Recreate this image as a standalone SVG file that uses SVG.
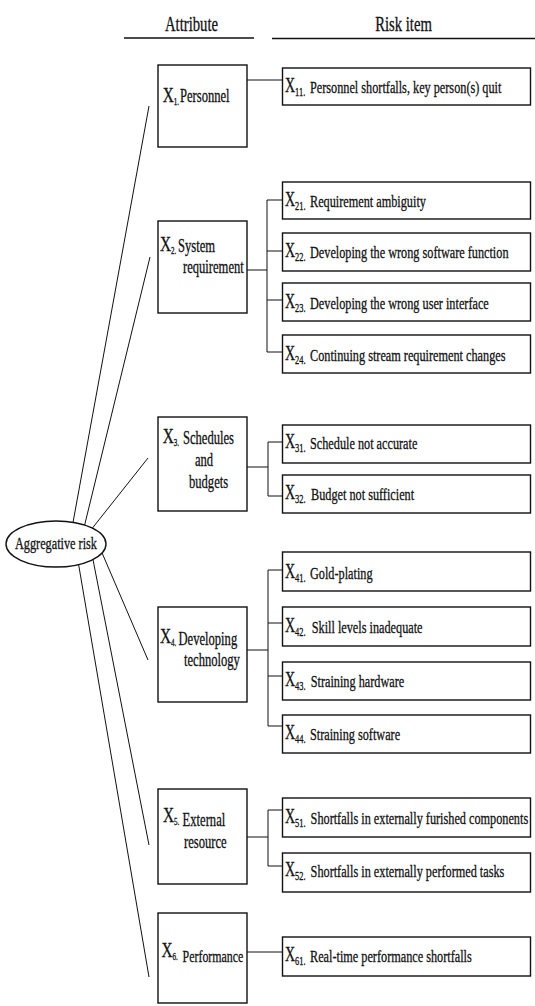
<svg xmlns="http://www.w3.org/2000/svg" width="535" height="1006" viewBox="0 0 535 1006">
<style>
text{font-family:"Liberation Serif","Times New Roman",serif;fill:#111;stroke:#111;stroke-width:0.3}
.box{fill:#fff;stroke:#111;stroke-width:1.4}
.ln{fill:none;stroke:#111;stroke-width:1}
.rule{stroke:#111;stroke-width:1.5}
.hd{font-size:21px}
.X{font-size:20px}
.Xa{font-size:22px}
.s{font-size:12px}
.sa{font-size:10px}
.d{font-size:17.5px}
.da{font-size:18px}
.e{font-size:17.5px}
</style>
<rect width="535" height="1006" fill="#fff"/>
<g id="headers">
<line class="rule" x1="124" y1="38" x2="254" y2="38"/>
<line class="rule" x1="272" y1="38.5" x2="535" y2="38.5"/>
<text class="hd" transform="scale(0.7,1)" x="273.57" y="31.5" text-anchor="middle">Attribute</text>
<text class="hd" transform="scale(0.7,1)" x="576.43" y="31.5" text-anchor="middle">Risk item</text>
</g>
<g id="connectors" class="ln">
<path d="M73,522.5 L149,106 M84.6,525.2 L150,257 M92.4,528.1 L148,458 M102.1,553 L148,660 M93,559.7 L149,845 M78.6,564.5 L149,977"/>
<path d="M247,80 H282.5"/>
<path d="M247,270 H267 M282.5,200 H267 V352 H282.5 M267,251 H282.5 M267,300 H282.5"/>
<path d="M247,467 H268 M282.5,442 H268 V496 H282.5"/>
<path d="M247,650 H268 M282.5,570 H268 V726 H282.5 M268,623 H282.5 M268,676 H282.5"/>
<path d="M247,837 H268 M282.5,810 H268 V866 H282.5"/>
<path d="M247,952 H282.5"/>
</g>
<g id="root">
<ellipse class="box" cx="56" cy="544" rx="50" ry="23"/>
<text class="e" transform="scale(0.7,1)" x="80" y="549" text-anchor="middle">Aggregative risk</text>
</g>
<g id="x1">
<rect class="box" x="158" y="65" width="89" height="82"/>
<text transform="scale(0.7,1)"><tspan class="Xa" x="232.43" y="101.7">X</tspan><tspan class="sa" dy="3.5">1. </tspan><tspan class="da" x="257.14" y="102">Personnel</tspan></text>
</g>
<g id="x2">
<rect class="box" x="158" y="221" width="89" height="92"/>
<text transform="scale(0.7,1)"><tspan class="Xa" x="228.57" y="251">X</tspan><tspan class="sa" dy="3.5">2. </tspan><tspan class="da" x="254.29" y="252">System </tspan><tspan class="da" x="261.43" y="273">requirement</tspan></text>
</g>
<g id="x3">
<rect class="box" x="158" y="417" width="89" height="94"/>
<text transform="scale(0.7,1)"><tspan class="Xa" x="232.43" y="443">X</tspan><tspan class="sa" dy="3.5">3. </tspan><tspan class="da" x="261.43" y="444">Schedules </tspan><tspan class="da" x="278.57" y="466">and </tspan><tspan class="da" x="270" y="488">budgets</tspan></text>
</g>
<g id="x4">
<rect class="box" x="158" y="607" width="89" height="95"/>
<text transform="scale(0.7,1)"><tspan class="Xa" x="228.57" y="643">X</tspan><tspan class="sa" dy="3.5">4. </tspan><tspan class="da" x="255" y="645">Developing </tspan><tspan class="da" x="262.86" y="666">technology</tspan></text>
</g>
<g id="x5">
<rect class="box" x="158" y="789" width="89" height="95"/>
<text transform="scale(0.7,1)"><tspan class="Xa" x="232.86" y="822">X</tspan><tspan class="sa" dy="3.5">5. </tspan><tspan class="da" x="260.86" y="826">External </tspan><tspan class="da" x="262.86" y="848">resource</tspan></text>
</g>
<g id="x6">
<rect class="box" x="158" y="913" width="89" height="90"/>
<text transform="scale(0.7,1)"><tspan class="Xa" x="230.57" y="957">X</tspan><tspan class="sa" dy="3.5">6. </tspan><tspan class="da" x="260.86" y="962" style="font-size:17px">Performance</tspan></text>
</g>
<g id="x11">
<rect class="box" x="282.5" y="68" width="248" height="37"/>
<text transform="scale(0.7,1)" y="92"><tspan class="X" x="407.14">X</tspan><tspan class="s" dy="4">11. </tspan><tspan class="d" x="442.86" dy="-3">Personnel shortfalls, key person(s) quit</tspan></text>
</g>
<g id="x21">
<rect class="box" x="282.5" y="182" width="248" height="37"/>
<text transform="scale(0.7,1)" y="206"><tspan class="X" x="407.14">X</tspan><tspan class="s" dy="4">21. </tspan><tspan class="d" x="442.86" dy="-3">Requirement ambiguity</tspan></text>
</g>
<g id="x22">
<rect class="box" x="282.5" y="233" width="248" height="38"/>
<text transform="scale(0.7,1)" y="257"><tspan class="X" x="407.14">X</tspan><tspan class="s" dy="4">22. </tspan><tspan class="d" x="442.86" dy="-3">Developing the wrong software function</tspan></text>
</g>
<g id="x23">
<rect class="box" x="282.5" y="283" width="248" height="38"/>
<text transform="scale(0.7,1)" y="308"><tspan class="X" x="407.14">X</tspan><tspan class="s" dy="4">23. </tspan><tspan class="d" x="442.86" dy="-3">Developing the wrong user interface</tspan></text>
</g>
<g id="x24">
<rect class="box" x="282.5" y="335" width="248" height="38"/>
<text transform="scale(0.7,1)" y="360"><tspan class="X" x="407.14">X</tspan><tspan class="s" dy="4">24. </tspan><tspan class="d" x="442.86" dy="-3">Continuing stream requirement changes</tspan></text>
</g>
<g id="x31">
<rect class="box" x="282.5" y="425" width="248" height="38"/>
<text transform="scale(0.7,1)" y="448"><tspan class="X" x="407.14">X</tspan><tspan class="s" dy="4">31. </tspan><tspan class="d" x="442.86" dy="-3">Schedule not accurate</tspan></text>
</g>
<g id="x32">
<rect class="box" x="282.5" y="475" width="248" height="38"/>
<text transform="scale(0.7,1)" y="499"><tspan class="X" x="407.14">X</tspan><tspan class="s" dy="4">32. </tspan><tspan class="d" x="444.3" dy="-3">Budget not sufficient</tspan></text>
</g>
<g id="x41">
<rect class="box" x="282.5" y="552" width="248" height="39"/>
<text transform="scale(0.7,1)" y="578"><tspan class="X" x="407.14">X</tspan><tspan class="s" dy="4">41. </tspan><tspan class="d" x="442.86" dy="-3">Gold-plating</tspan></text>
</g>
<g id="x42">
<rect class="box" x="282.5" y="607" width="248" height="39"/>
<text transform="scale(0.7,1)" y="632"><tspan class="X" x="407.14">X</tspan><tspan class="s" dy="4">42. </tspan><tspan class="d" x="445.3" dy="-3">Skill levels inadequate</tspan></text>
</g>
<g id="x43">
<rect class="box" x="282.5" y="662" width="248" height="38"/>
<text transform="scale(0.7,1)" y="686"><tspan class="X" x="407.14">X</tspan><tspan class="s" dy="4">43. </tspan><tspan class="d" x="443.86" dy="-3">Straining hardware</tspan></text>
</g>
<g id="x44">
<rect class="box" x="282.5" y="715" width="248" height="38"/>
<text transform="scale(0.7,1)" y="739"><tspan class="X" x="407.14">X</tspan><tspan class="s" dy="4">44. </tspan><tspan class="d" x="442.86" dy="-3">Straining software</tspan></text>
</g>
<g id="x51">
<rect class="box" x="282.5" y="798" width="248" height="39"/>
<text transform="scale(0.7,1)" y="823"><tspan class="X" x="407.14">X</tspan><tspan class="s" dy="4">51. </tspan><tspan class="d" x="443.71" dy="-3">Shortfalls in externally furished components</tspan></text>
</g>
<g id="x52">
<rect class="box" x="282.5" y="853" width="248" height="39"/>
<text transform="scale(0.7,1)" y="876"><tspan class="X" x="407.14">X</tspan><tspan class="s" dy="4">52. </tspan><tspan class="d" x="443.71" dy="-3">Shortfalls in externally performed tasks</tspan></text>
</g>
<g id="x61">
<rect class="box" x="282.5" y="937" width="248" height="39"/>
<text transform="scale(0.7,1)" y="961"><tspan class="X" x="407.14">X</tspan><tspan class="s" dy="4">61. </tspan><tspan class="d" x="442.86" dy="-3">Real-time performance shortfalls</tspan></text>
</g>
</svg>
